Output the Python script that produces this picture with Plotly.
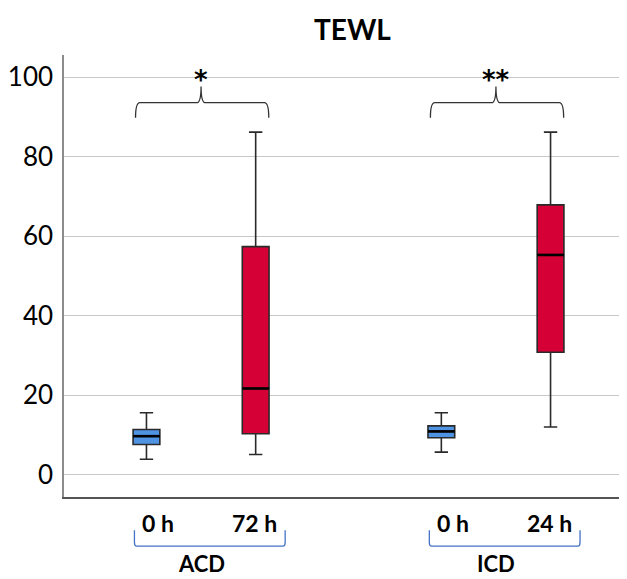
import plotly.graph_objects as go

# ---- data ----
groups = ["ACD", "ICD"]
time_labels = ["0 h", "72 h", "0 h", "24 h"]
group_of = [0, 0, 1, 1]
lower_whisker = [3.9, 5.1, 5.7, 12.0]
q1_vals = [7.6, 10.3, 9.3, 30.8]
median_vals = [9.7, 21.7, 10.9, 55.3]
q3_vals = [11.4, 57.4, 12.3, 67.9]
upper_whisker = [15.6, 86.2, 15.6, 86.2]
significance = ["*", "**"]
y_ticks = [0, 20, 40, 60, 80, 100]

BLUE = "#4F93E3"
RED = "#D40036"
box_colors = [BLUE, RED, BLUE, RED]

# ---- layout helpers ----
GROUP_GAP = 1.7
positions = [i + (GROUP_GAP - 1) * g for i, g in enumerate(group_of)]
BOX_W = 0.245
XMIN, XMAX = -0.755, 4.4
YMIN, YMAX = -5.6, 105.6


def xpaper(x):
    return (x - XMIN) / (XMAX - XMIN)


fig = go.Figure()

for i in range(len(time_labels)):
    fig.add_trace(go.Box(
        x=[positions[i]],
        q1=[q1_vals[i]], median=[median_vals[i]], q3=[q3_vals[i]],
        lowerfence=[lower_whisker[i]], upperfence=[upper_whisker[i]],
        width=BOX_W, whiskerwidth=0.5,
        fillcolor=box_colors[i],
        line=dict(color="#2a2a2a", width=1.6),
        boxpoints=False, hoverinfo="skip", showlegend=False,
    ))
    fig.add_trace(go.Scatter(
        x=[positions[i] - BOX_W / 2, positions[i] + BOX_W / 2],
        y=[median_vals[i], median_vals[i]],
        mode="lines", line=dict(color="black", width=2.6),
        hoverinfo="skip", showlegend=False,
    ))

shapes = []
annotations = []

# curly braces + significance stars
for g, grp in enumerate(groups):
    idx = [i for i in range(len(group_of)) if group_of[i] == g]
    xl = positions[idx[0]] - 0.10
    xr = positions[idx[-1]] + 0.12
    xc = (positions[idx[0]] + positions[idx[-1]]) / 2
    top = max(upper_whisker[i] for i in idx)
    yb, yh, yt = top + 3.6, top + 7.4, top + 11.5
    r = 0.04
    path = (f"M {xl},{yb} Q {xl},{yh} {xl + r},{yh} L {xc - r},{yh} "
            f"Q {xc},{yh} {xc},{yt} Q {xc},{yh} {xc + r},{yh} "
            f"L {xr - r},{yh} Q {xr},{yh} {xr},{yb}")
    shapes.append(dict(type="path", path=path, xref="x", yref="y",
                       line=dict(color="#333333", width=1.3)))
    annotations.append(dict(x=xc, y=top + 13.2, xref="x", yref="y",
                            text=f"<b>{significance[g]}</b>", showarrow=False,
                            xanchor="center", yanchor="middle",
                            font=dict(size=26, color="black",
                                      family="DejaVu Sans")))

    # blue bracket under the time labels
    bl = xpaper(positions[idx[0]] - 0.11)
    br = xpaper(positions[idx[-1]] + 0.27)
    ytop, ybot = -0.075, -0.111
    rr = 0.004
    bpath = (f"M {bl},{ytop} L {bl},{ybot + 0.008} Q {bl},{ybot} {bl + rr},{ybot} "
             f"L {br - rr},{ybot} Q {br},{ybot} {br},{ybot + 0.008} L {br},{ytop}")
    shapes.append(dict(type="path", path=bpath, xref="paper", yref="paper",
                       line=dict(color="#4472C4", width=1.3)))
    annotations.append(dict(x=xpaper(xc), y=-0.184, xref="paper", yref="paper",
                            text=f"<b>{grp}</b>", showarrow=False,
                            xanchor="center", yanchor="bottom", borderpad=0,
                            font=dict(size=22, color="black", family="Lato")))

for i, lab in enumerate(time_labels):
    shift = 0.11 if i in (0, 2) else -0.01
    annotations.append(dict(x=xpaper(positions[i] + shift), y=-0.0588,
                            xref="paper", yref="paper",
                            text=f"<b>{lab}</b>", showarrow=False,
                            xanchor="center", yanchor="middle",
                            font=dict(size=23, color="black", family="Lato")))

annotations.append(dict(x=xpaper(1.89), y=1.0, xref="paper", yref="paper",
                        yshift=7, text="<b>TEWL</b>", showarrow=False,
                        xanchor="center", yanchor="bottom",
                        font=dict(size=28, color="black", family="Lato")))

# page body has an 8px default margin, so size the figure to fit the window
fig.update_layout(
    width=619, height=571,
    margin=dict(l=52, r=0, t=47, b=82),
    paper_bgcolor="white", plot_bgcolor="white",
    shapes=shapes, annotations=annotations,
    xaxis=dict(range=[XMIN, XMAX], showticklabels=False, ticks="",
               showgrid=False, zeroline=False, showline=True,
               linecolor="#555555", linewidth=1.5, fixedrange=True),
    yaxis=dict(range=[YMIN, YMAX], tickvals=y_ticks, showgrid=True,
               gridcolor="#c8c8c8", gridwidth=1.3, zeroline=False,
               showline=True, linecolor="#8c8c8c", linewidth=1.5,
               ticks="", ticklabelstandoff=4,
               tickfont=dict(size=26, color="black", family="Lato")),
    showlegend=False,
)

fig.write_html("out.html")
